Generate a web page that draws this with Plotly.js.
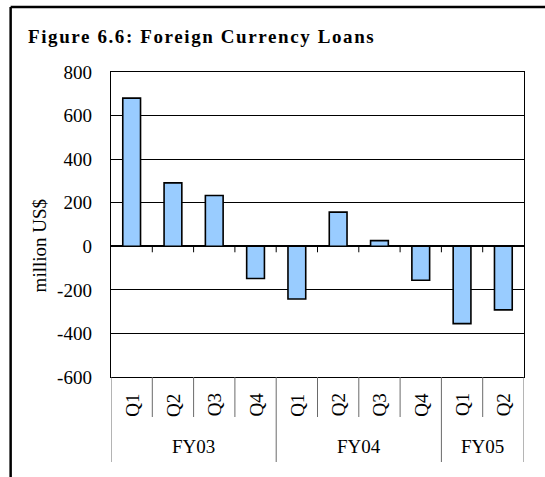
<!DOCTYPE html>
<html>
<head>
<meta charset="utf-8">
<script src="https://cdn.plot.ly/plotly-3.0.1.min.js"></script>
<style>
  html, body { margin: 0; padding: 0; background: #fff; }
  #chart { width: 545px; height: 477px; }
  .gtitle { letter-spacing: 1.6px; }
</style>
</head>
<body>
<div id="chart"></div>
<script>
// ---- data ----
const quarters = ['Q1', 'Q2', 'Q3', 'Q4', 'Q1', 'Q2', 'Q3', 'Q4', 'Q1', 'Q2'];
const fiscalYears = ['FY03', 'FY03', 'FY03', 'FY03', 'FY04', 'FY04', 'FY04', 'FY04', 'FY05', 'FY05'];
const loans = [680, 291, 233, -148, -242, 157, 26, -156, -355, -292];
const yTicks = [-600, -400, -200, 0, 200, 400, 600, 800];
const chartTitle = 'Figure 6.6: Foreign Currency Loans';
const yTitle = 'million US$';

// ---- build ----
const idx = quarters.map((_, i) => i);
const FONT = 'Liberation Serif, Times New Roman, serif';

const shapes = [];
const annotations = [];

// frame (top and left rule)
shapes.push({type: 'line', xref: 'paper', yref: 'paper',
  x0: -0.243, x1: 1.1, y0: 1.213, y1: 1.213, line: {color: '#000', width: 2.5}});
shapes.push({type: 'line', xref: 'paper', yref: 'paper',
  x0: -0.243, x1: -0.243, y0: 1.213, y1: -0.35, line: {color: '#000', width: 2.5}});

// tick marks on the zero (category) axis at category boundaries
for (let i = 0; i < idx.length - 1; i++) {
  shapes.push({type: 'line', xref: 'x', yref: 'y', ysizemode: 'pixel', yanchor: 0,
    x0: i + 0.5, x1: i + 0.5, y0: 0, y1: -6, line: {color: '#000', width: 1}});
}

// category separators below the plot + labels
for (let i = 0; i <= idx.length; i++) {
  const isGroupEdge = (i === 0 || i === idx.length || fiscalYears[i] !== fiscalYears[i - 1]);
  shapes.push({type: 'line', xref: 'x', yref: 'paper', ysizemode: 'pixel', yanchor: 0,
    x0: i - 0.5, x1: i - 0.5, y0: 0, y1: isGroupEdge ? -85 : -40,
    line: {color: '#6a6a6a', width: 1}});
}
idx.forEach(i => {
  annotations.push({xref: 'x', yref: 'paper', x: i, y: 0, yshift: -28,
    text: quarters[i], textangle: -90, showarrow: false,
    xanchor: 'center', yanchor: 'middle', font: {family: FONT, size: 19, color: '#000'}});
});
// fiscal-year group labels
let start = 0;
for (let i = 1; i <= fiscalYears.length; i++) {
  if (i === fiscalYears.length || fiscalYears[i] !== fiscalYears[start]) {
    annotations.push({xref: 'x', yref: 'paper', x: (start + i - 1) / 2, y: 0, yshift: -69,
      text: fiscalYears[start], showarrow: false, xanchor: 'center', yanchor: 'middle',
      font: {family: FONT, size: 19, color: '#000'}});
    start = i;
  }
}
// y axis title
annotations.push({xref: 'paper', yref: 'paper', x: -0.173, y: 0.43,
  text: yTitle, textangle: -90, showarrow: false, xanchor: 'center', yanchor: 'middle',
  font: {family: FONT, size: 19, color: '#000'}});

const trace = {
  type: 'bar', x: idx, y: loans, width: 0.43,
  marker: {color: '#99ccff', line: {color: '#000', width: 1.6}},
  hoverinfo: 'skip'
};

const layout = {
  width: 545, height: 477,
  margin: {l: 111, r: 21, t: 72, b: 100},
  paper_bgcolor: '#fff', plot_bgcolor: '#fff',
  showlegend: false,
  font: {family: FONT, color: '#000'},
  title: {text: '<b>' + chartTitle + '</b>', xref: 'container', yref: 'container',
    x: 28 / 545, xanchor: 'left', y: 1 - 36 / 477, yanchor: 'middle',
    font: {family: FONT, size: 19, color: '#000'}},
  xaxis: {range: [-0.5, idx.length - 0.5], showticklabels: false, ticks: '',
    showgrid: false, zeroline: false, showline: true, mirror: true,
    linecolor: '#000', linewidth: 1.3, fixedrange: true},
  yaxis: {range: [yTicks[0], yTicks[yTicks.length - 1]], tickvals: yTicks,
    ticktext: yTicks.map(String), showgrid: true, gridcolor: '#000', gridwidth: 1,
    zeroline: true, zerolinecolor: '#000', zerolinewidth: 1.6,
    showline: true, mirror: true, linecolor: '#000', linewidth: 1.3,
    ticks: '', ticklabelstandoff: 14,
    tickfont: {family: FONT, size: 19, color: '#000'}, fixedrange: true},
  shapes: shapes,
  annotations: annotations
};

Plotly.newPlot('chart', [trace], layout, {displayModeBar: false, staticPlot: true});
</script>
</body>
</html>
